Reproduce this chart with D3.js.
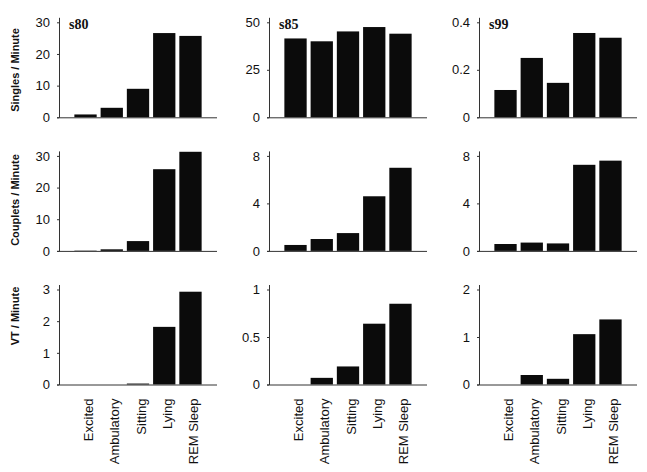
<!DOCTYPE html>
<html>
<head>
<meta charset="utf-8">
<script src="https://cdn.jsdelivr.net/npm/d3@7"></script>
<style>
  html, body { margin: 0; padding: 0; background: #fff; }
  svg { display: block; }
</style>
</head>
<body>
<svg id="chart" width="647" height="472"></svg>
<script>
// ---- data ----
const categories = ["Excited", "Ambulatory", "Sitting", "Lying", "REM Sleep"];
const subjects = ["s80", "s85", "s99"];
const measures = ["Singles / Minute", "Couplets / Minute", "VT / Minute"];

const singles_s80 = [0.9, 3.0, 9.0, 26.6, 25.7];
const singles_s85 = [41.5, 40.0, 45.2, 47.5, 44.0];
const singles_s99 = [0.115, 0.25, 0.145, 0.355, 0.335];

const couplets_s80 = [0.1, 0.5, 3.1, 25.8, 31.3];
const couplets_s85 = [0.5, 1.0, 1.5, 4.6, 7.0];
const couplets_s99 = [0.58, 0.7, 0.63, 7.25, 7.6];

const vt_s80 = [0, 0, 0.03, 1.82, 2.93];
const vt_s85 = [0, 0.07, 0.19, 0.64, 0.85];
const vt_s99 = [0, 0.2, 0.12, 1.06, 1.37];

const ticks_singles_s80 = [0, 10, 20, 30];
const ticks_singles_s85 = [0, 25, 50];
const ticks_singles_s99 = [0, 0.2, 0.4];
const ticks_couplets_s80 = [0, 10, 20, 30];
const ticks_couplets_s85 = [0, 4, 8];
const ticks_couplets_s99 = [0, 4, 8];
const ticks_vt_s80 = [0, 1, 2, 3];
const ticks_vt_s85 = [0, 0.5, 1];
const ticks_vt_s99 = [0, 1, 2];

const panelValues = [
  [singles_s80, singles_s85, singles_s99],
  [couplets_s80, couplets_s85, couplets_s99],
  [vt_s80, vt_s85, vt_s99]
];
const panelTicks = [
  [ticks_singles_s80, ticks_singles_s85, ticks_singles_s99],
  [ticks_couplets_s80, ticks_couplets_s85, ticks_couplets_s99],
  [ticks_vt_s80, ticks_vt_s85, ticks_vt_s99]
];

// ---- layout ----
const svg = d3.select("#chart");
const colX0 = 59, colStep = 210;
const rowY0 = 117.3, rowStep = 133.6;
const tickSpan = 95, axisSpan = 100;
const labelCenters = [70, 200, 316];
const sans = "'Liberation Sans', Arial, Helvetica, sans-serif";
const serif = "'Liberation Serif', 'Times New Roman', serif";
const lineColor = "#333";

measures.forEach((measure, r) => {
  const zeroY = rowY0 + rowStep * r;

  svg.append("text")
    .attr("transform", `translate(15,${labelCenters[r]}) rotate(-90)`)
    .attr("text-anchor", "middle")
    .attr("dy", "0.35em")
    .style("font-family", sans)
    .style("font-weight", "bold")
    .style("font-size", "11px")
    .attr("fill", "#111")
    .text(measure);

  subjects.forEach((subj, c) => {
    const axisX = colX0 + colStep * c;
    const vals = panelValues[r][c];
    const tks = panelTicks[r][c];
    const topTick = tks[tks.length - 1];

    const y = d3.scaleLinear()
      .domain([0, topTick * axisSpan / tickSpan])
      .range([zeroY, zeroY - axisSpan]);

    const x = d3.scaleBand()
      .domain(categories)
      .range([axisX + 13.4, axisX + 13.4 + 131.2])
      .paddingInner(0.15)
      .paddingOuter(0.075);

    const g = svg.append("g");

    // bars
    g.selectAll("rect.bar")
      .data(vals)
      .join("rect")
      .attr("class", "bar")
      .attr("x", (d, i) => x(categories[i]))
      .attr("width", x.bandwidth())
      .attr("y", d => y(d))
      .attr("height", d => Math.max(0, y(0) - y(d)))
      .attr("fill", "#0b0b0b");

    // y axis
    const ya = g.append("g")
      .attr("transform", `translate(${axisX},0)`)
      .call(d3.axisLeft(y).tickValues(tks).tickSize(2).tickSizeOuter(0).tickPadding(7)
        .tickFormat(d3.format("~g")));
    ya.select(".domain").attr("stroke", lineColor).attr("stroke-width", 1);
    ya.selectAll(".tick line").attr("stroke", lineColor);
    ya.selectAll(".tick text")
      .style("font-family", sans)
      .style("font-size", "13px")
      .attr("fill", "#111");

    // x axis baseline
    g.append("line")
      .attr("x1", axisX - 2).attr("x2", axisX + 158)
      .attr("y1", y(0) + 0.5).attr("y2", y(0) + 0.5)
      .attr("stroke", lineColor).attr("stroke-width", 1);

    // category labels on bottom row
    if (r === measures.length - 1) {
      const xa = g.append("g")
        .attr("transform", `translate(0,${zeroY})`)
        .call(d3.axisBottom(x).tickSize(0).tickPadding(0));
      xa.select(".domain").remove();
      xa.selectAll(".tick text")
        .attr("transform", "rotate(-90)")
        .attr("text-anchor", "end")
        .attr("x", -14)
        .attr("y", 3)
        .attr("dy", "0.35em")
        .style("font-family", sans)
        .style("font-size", "13px")
        .attr("fill", "#111");
    }

    // panel titles on top row
    if (r === 0) {
      svg.append("text")
        .attr("x", axisX + 10)
        .attr("y", zeroY - 88)
        .style("font-family", serif)
        .style("font-weight", "bold")
        .style("font-size", "14px")
        .attr("fill", "#111")
        .text(subj);
    }
  });
});
</script>
</body>
</html>
